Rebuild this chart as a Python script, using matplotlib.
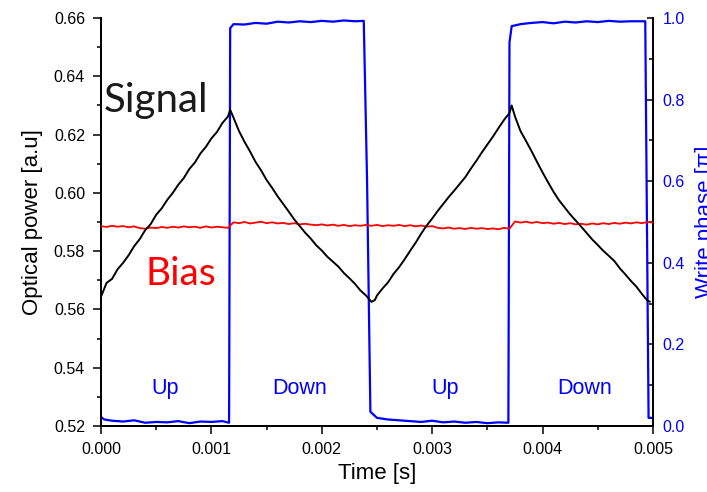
import numpy as np
import matplotlib
matplotlib.use('Agg')
import matplotlib.pyplot as plt
from matplotlib.ticker import MultipleLocator, FormatStrFormatter

# signal (black)
t_signal = [0, 0.00005, 0.0001, 0.00015, 0.0002, 0.00025, 0.0003, 0.00035, 0.0004, 0.00045,
            0.0005, 0.00055, 0.0006, 0.00065, 0.0007, 0.00075, 0.0008, 0.00085, 0.0009, 0.00095,
            0.001, 0.00105, 0.0011, 0.00115, 0.00117,
            0.0012, 0.00125, 0.0013, 0.00135, 0.0014, 0.00145, 0.0015, 0.00155, 0.0016, 0.00165,
            0.0017, 0.00175, 0.0018, 0.00185, 0.0019, 0.00195, 0.002, 0.00205, 0.0021, 0.00215,
            0.0022, 0.00225, 0.0023, 0.00235, 0.0024, 0.00245, 0.00248,
            0.0025, 0.00255, 0.0026, 0.00265, 0.0027, 0.00275, 0.0028, 0.00285, 0.0029, 0.00295,
            0.003, 0.00305, 0.0031, 0.00315, 0.0032, 0.00325, 0.0033, 0.00335, 0.0034, 0.00345,
            0.0035, 0.00355, 0.0036, 0.00365, 0.0037, 0.00372,
            0.00375, 0.0038, 0.00385, 0.0039, 0.00395, 0.004, 0.00405, 0.0041, 0.00415, 0.0042,
            0.00425, 0.0043, 0.00435, 0.0044, 0.00445, 0.0045, 0.00455, 0.0046, 0.00465, 0.0047,
            0.00475, 0.0048, 0.00485, 0.0049, 0.00495, 0.00497]
signal = [0.5644, 0.5691, 0.5705, 0.5738, 0.5760, 0.5786, 0.5817, 0.5841, 0.5872, 0.5893,
          0.5925, 0.5947, 0.5976, 0.6000, 0.6028, 0.6051, 0.6082, 0.6104, 0.6135, 0.6158,
          0.6187, 0.6209, 0.6240, 0.6262, 0.6285,
          0.6258, 0.6212, 0.6175, 0.6142, 0.6106, 0.6077, 0.6044, 0.6017, 0.5988, 0.5962,
          0.5936, 0.5909, 0.5886, 0.5863, 0.5843, 0.5820, 0.5802, 0.5781, 0.5764, 0.5747,
          0.5725, 0.5707, 0.5688, 0.5665, 0.5648, 0.5626, 0.5632,
          0.5648, 0.5672, 0.5693, 0.5722, 0.5745, 0.5772, 0.5801, 0.5829, 0.5860, 0.5888,
          0.5912, 0.5938, 0.5962, 0.5986, 0.6008, 0.6031, 0.6054, 0.6083, 0.6110, 0.6139,
          0.6166, 0.6193, 0.6222, 0.6250, 0.6274, 0.6300,
          0.6262, 0.6212, 0.6178, 0.6143, 0.6106, 0.6070, 0.6036, 0.6003, 0.5974, 0.5950,
          0.5926, 0.5905, 0.5884, 0.5862, 0.5840, 0.5821, 0.5801, 0.5784, 0.5766, 0.5741,
          0.5720, 0.5698, 0.5678, 0.5653, 0.5630, 0.5627]

# bias (red), sampled every 0.05 ms
t_bias = np.linspace(0, 0.005, 101)
bias = [0.5886, 0.5883, 0.5887, 0.5884, 0.5886, 0.5882, 0.5885, 0.5879, 0.5877, 0.5881,
        0.5879, 0.5883, 0.5880, 0.5884, 0.5881, 0.5885, 0.5882, 0.5884, 0.5880, 0.5885,
        0.5881, 0.5884, 0.5882, 0.5880,
        0.5899, 0.5896, 0.5900, 0.5895, 0.5898, 0.5901, 0.5896, 0.5899, 0.5895, 0.5897,
        0.5893, 0.5896, 0.5892, 0.5894, 0.5891, 0.5889, 0.5892, 0.5888, 0.5891, 0.5887,
        0.5890, 0.5886, 0.5889, 0.5887, 0.5890,
        0.5887, 0.5890, 0.5886, 0.5889, 0.5887, 0.5890, 0.5886, 0.5889, 0.5885, 0.5888,
        0.5884, 0.5886, 0.5880, 0.5878, 0.5881, 0.5877, 0.5879, 0.5876, 0.5880, 0.5877,
        0.5879, 0.5876, 0.5878, 0.5875, 0.5880, 0.5877,
        0.5902, 0.5898, 0.5901, 0.5897, 0.5900, 0.5896, 0.5898, 0.5894, 0.5897, 0.5893,
        0.5896, 0.5892, 0.5894, 0.5891, 0.5895, 0.5892, 0.5896, 0.5893, 0.5897, 0.5894,
        0.5898, 0.5895, 0.5899, 0.5896, 0.5900, 0.5898]

# write phase (blue, right axis)
t_phase = [0, 0.00003, 0.0001, 0.0002, 0.0003, 0.0004, 0.0005, 0.0006, 0.0007, 0.0008,
           0.0009, 0.001, 0.0011, 0.00116,
           0.00117, 0.0012, 0.0013, 0.0014, 0.0015, 0.0016, 0.0017, 0.0018, 0.0019, 0.002,
           0.0021, 0.0022, 0.0023, 0.00238,
           0.00241, 0.00244, 0.0025, 0.0026, 0.0027, 0.0028, 0.0029, 0.003, 0.0031, 0.0032,
           0.0033, 0.0034, 0.0035, 0.0036, 0.00369,
           0.0037, 0.00372, 0.0038, 0.0039, 0.004, 0.0041, 0.0042, 0.0043, 0.0044, 0.0045,
           0.0046, 0.0047, 0.0048, 0.00493,
           0.00496, 0.005]
phase = [0.022, 0.016, 0.013, 0.011, 0.014, 0.008, 0.010, 0.009, 0.012, 0.007,
         0.011, 0.010, 0.012, 0.008,
         0.975, 0.985, 0.984, 0.988, 0.986, 0.991, 0.989, 0.992, 0.990, 0.993,
         0.991, 0.994, 0.992, 0.993,
         0.600, 0.035, 0.020, 0.016, 0.014, 0.012, 0.010, 0.013, 0.009, 0.011,
         0.008, 0.010, 0.007, 0.009, 0.008,
         0.940, 0.980, 0.985, 0.988, 0.990, 0.987, 0.991, 0.989, 0.992, 0.990,
         0.993, 0.991, 0.992, 0.992,
         0.020, 0.020]

x_ticks = [0.000, 0.001, 0.002, 0.003, 0.004, 0.005]

plt.rcParams['font.family'] = ['Liberation Sans', 'DejaVu Sans']

fig = plt.figure(figsize=(7.07, 4.92), dpi=100)
ax = fig.add_axes([0.1429, 0.1341, 0.7807, 0.8293])
ax2 = ax.twinx()

ax.plot(t_bias, bias, color='red', lw=1.3, zorder=3)
ax.plot(t_signal, signal, color='black', lw=1.4, zorder=4)
ax2.plot(t_phase, phase, color='blue', lw=1.6)
ax.set_zorder(ax2.get_zorder() + 1)
ax.patch.set_visible(False)

ax.set_xlim(0, 0.005)
ax.set_ylim(0.52, 0.66)
ax2.set_ylim(0, 1.0)
ax.set_xticks(x_ticks)
ax.xaxis.set_major_formatter(FormatStrFormatter('%.3f'))
ax.xaxis.set_minor_locator(MultipleLocator(0.0005))
ax.yaxis.set_major_locator(MultipleLocator(0.02))
ax.yaxis.set_minor_locator(MultipleLocator(0.01))
ax.yaxis.set_major_formatter(FormatStrFormatter('%.2f'))
ax2.yaxis.set_major_locator(MultipleLocator(0.2))
ax2.yaxis.set_minor_locator(MultipleLocator(0.1))
ax2.yaxis.set_major_formatter(FormatStrFormatter('%.1f'))

for a in (ax, ax2):
    a.spines['top'].set_visible(False)
    for s in a.spines.values():
        s.set_linewidth(1.3)
ax.tick_params(which='major', direction='out', length=5.5, width=1.1, labelsize=11.5, pad=6)
ax.tick_params(which='minor', direction='out', length=3, width=1.1)
ax2.tick_params(which='major', direction='in', length=4, width=1.1, labelsize=11.5,
                pad=7, labelcolor='blue')
ax2.tick_params(which='minor', direction='in', length=3, width=1.1)

ax.set_xlabel('Time [s]', fontsize=16, labelpad=4)
ax.set_ylabel('Optical power [a.u]', fontsize=16, labelpad=8)
# the reference crops this label at the right edge of the figure
ax2.set_ylabel('Write phase [π]', fontsize=16, color='blue', labelpad=7)

ax.text(0.00002, 0.6277, 'Signal', fontsize=29, family=['Lato', 'DejaVu Sans'],
        color='#1a1a1a', ha='left', va='baseline')
ax.text(0.0004, 0.5684, 'Bias', fontsize=28, family=['Lato', 'DejaVu Sans'],
        color='red', ha='left', va='baseline')
for xp, word in [(0.00058, 'Up'), (0.0018, 'Down'), (0.00312, 'Up'), (0.00438, 'Down')]:
    ax.text(xp, 0.533, word, fontsize=15.5, color='blue', ha='center', va='center')

fig.savefig('out.png', dpi=100)
